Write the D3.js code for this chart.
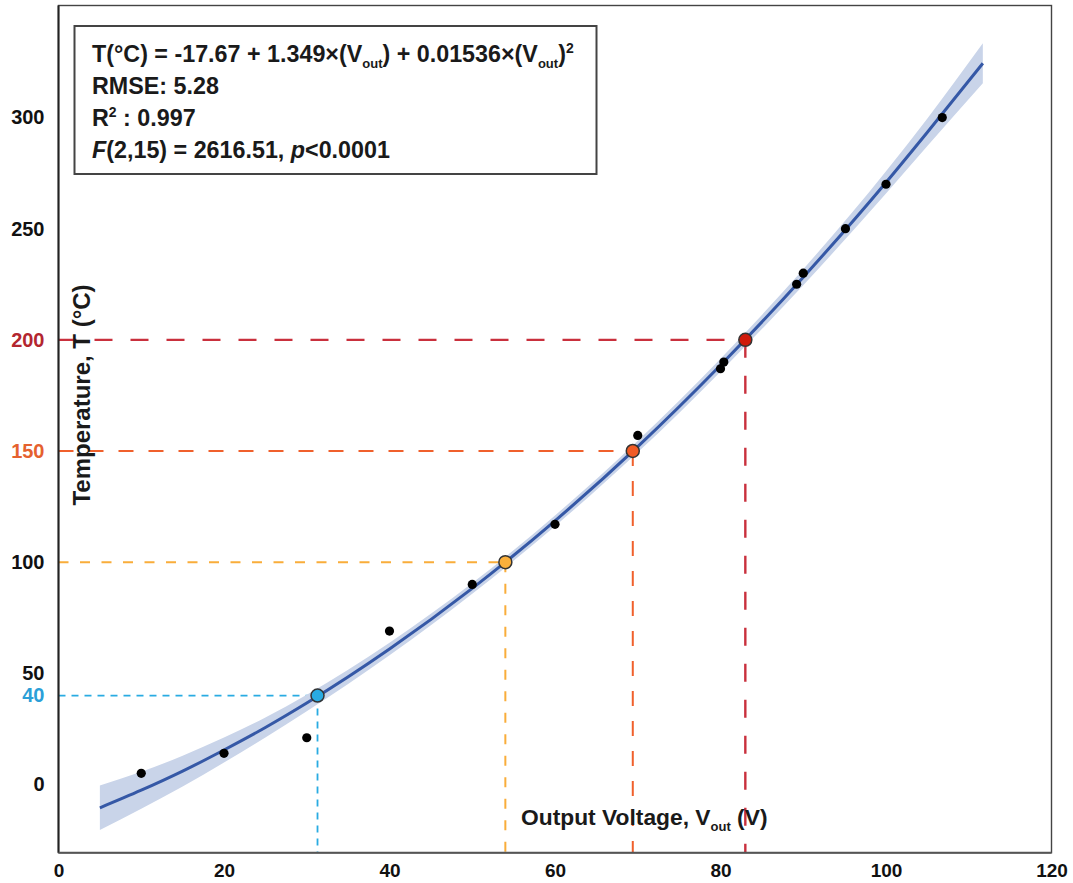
<!DOCTYPE html>
<html>
<head>
<meta charset="utf-8">
<script src="https://cdn.jsdelivr.net/npm/d3@7"></script>
<style>
  body { margin: 0; background: #fff; }
  svg text { font-family: "Liberation Sans", Arial, Helvetica, sans-serif; font-weight: bold; fill: #1a1a1a; }
</style>
</head>
<body>
<svg id="canvas"></svg>
<script>
// measured calibration points (V_out, T)
let voltage = [10, 20, 30, 40, 50, 60, 70, 80, 80.4, 89.2, 90, 95.1, 100, 106.8];
let temperature = [5, 14, 21, 69, 90, 117, 157, 187, 190, 225, 230, 250, 270, 300];

// fitted curve + confidence band
let fitV = [5, 10, 15, 20, 25, 30, 40, 50, 60, 70, 80, 90, 100, 105, 111.7];
let fitT = [-10.5, -2.6, 6.0, 15.5, 25.6, 36.6, 60.9, 88.2, 118.6, 152.0, 188.6, 228.2, 270.8, 293.4, 324.4];
let bandHalf = [10, 8.3, 6.9, 5.6, 4.5, 3.7, 2.8, 2.4, 2.4, 2.6, 2.9, 3.6, 5.0, 6.2, 9.0];

// highlighted read-outs
let refT = [40, 100, 150, 200];
let refV = [31.3, 54.0, 69.4, 83.0];

let xTicks = [0, 20, 40, 60, 80, 100, 120];
let yTicks = [0, 40, 50, 100, 150, 200, 250, 300];

let coef = ["-17.67", "1.349", "0.01536"];
let rmse = "5.28";
let r2 = "0.997";
let fText = "(2,15) = 2616.51, ";
let pText = "<0.0001";

// styles for the read-outs
let refStyle = [
  { dot: "#29abe2", line: "#29abe2", label: "#2b9fd8", dash: "7,6", w: 1.8 },
  { dot: "#fbb03b", line: "#f9ad3a", label: "#111", dash: "10,11.5", w: 2 },
  { dot: "#f15a24", line: "#f0602c", label: "#e5612e", dash: "15,15", w: 2 },
  { dot: "#d0190b", line: "#c9303d", label: "#b3262f", dash: "18,18", w: 2.4 }
];

let width = 1073;
let height = 883;
let padLeft = 58.5, padRight = 1051.5, padTop = 5.5, padBottom = 852.7;

let canvas = d3.select("#canvas").attr("width", width).attr("height", height);

let xScale = d3.scaleLinear().domain([0, 120]).range([padLeft, padRight]);
let yScale = d3.scaleLinear().domain([-30.7, 350.4]).range([padBottom, padTop]);

let fit = fitV.map((v, i) => ({ v: v, t: fitT[i], h: bandHalf[i] }));

// dashed read-out lines
refT.forEach((t, i) => {
  let s = refStyle[i];
  canvas.append("line")
        .attr("x1", xScale(0)).attr("x2", xScale(refV[i]))
        .attr("y1", yScale(t)).attr("y2", yScale(t))
        .attr("stroke", s.line).attr("stroke-width", s.w)
        .attr("stroke-dasharray", s.dash);
  canvas.append("line")
        .attr("x1", xScale(refV[i])).attr("x2", xScale(refV[i]))
        .attr("y1", yScale(t)).attr("y2", padBottom)
        .attr("stroke", s.line).attr("stroke-width", s.w)
        .attr("stroke-dasharray", s.dash);
});

// confidence band
let band = d3.area()
             .x(d => xScale(d.v))
             .y0(d => yScale(d.t - d.h))
             .y1(d => yScale(d.t + d.h))
             .curve(d3.curveMonotoneX);
canvas.append("path")
      .datum(fit)
      .attr("d", band)
      .attr("fill", "#c9d4e9");

// fitted line
let line = d3.line()
             .x(d => xScale(d.v))
             .y(d => yScale(d.t))
             .curve(d3.curveMonotoneX);
canvas.append("path")
      .datum(fit)
      .attr("d", line)
      .attr("fill", "none")
      .attr("stroke", "#3558a6")
      .attr("stroke-width", 3);

// measured points
canvas.selectAll(".pt")
      .data(voltage)
      .enter()
      .append("circle")
      .attr("class", "pt")
      .attr("cx", d => xScale(d))
      .attr("cy", (d, i) => yScale(temperature[i]))
      .attr("r", 4.6)
      .attr("fill", "#000");

// highlighted points
canvas.selectAll(".ref")
      .data(refT)
      .enter()
      .append("circle")
      .attr("class", "ref")
      .attr("cx", (d, i) => xScale(refV[i]))
      .attr("cy", d => yScale(d))
      .attr("r", 6.5)
      .attr("fill", (d, i) => refStyle[i].dot)
      .attr("stroke", "#333")
      .attr("stroke-width", 1.5);

// axes
let yAxis = d3.axisLeft(yScale).tickValues(yTicks).tickSize(0).tickPadding(14);
let yG = canvas.append("g")
               .attr("transform", "translate(" + padLeft + ",0)")
               .call(yAxis);
yG.select(".domain").remove();
yG.selectAll("text")
  .style("font-size", "20px")
  .style("fill", d => {
    let k = refT.indexOf(d);
    return k >= 0 ? refStyle[k].label : "#111";
  });

let xAxis = d3.axisBottom(xScale).tickValues(xTicks).tickSize(0).tickPadding(11).tickFormat(d3.format("d"));
let xG = canvas.append("g")
               .attr("transform", "translate(0," + padBottom + ")")
               .call(xAxis);
xG.select(".domain").remove();
xG.selectAll("text").style("font-size", "19px").style("fill", "#111");

// frame
canvas.append("rect")
      .attr("x", padLeft).attr("y", padTop)
      .attr("width", padRight - padLeft).attr("height", padBottom - padTop)
      .attr("fill", "none").attr("stroke", "#444").attr("stroke-width", 1.4);
canvas.append("line")
      .attr("x1", padLeft).attr("x2", padLeft).attr("y1", padTop).attr("y2", padBottom)
      .attr("stroke", "#222").attr("stroke-width", 2);
canvas.append("line")
      .attr("x1", padLeft).attr("x2", padRight).attr("y1", padBottom).attr("y2", padBottom)
      .attr("stroke", "#555").attr("stroke-width", 2);

// axis titles
let xt = canvas.append("text")
               .attr("x", 521).attr("y", 825)
               .style("font-size", "22.8px");
xt.append("tspan").text("Output Voltage, V");
xt.append("tspan").attr("dy", 6).style("font-size", "13px").text("out");
xt.append("tspan").attr("dy", -6).text(" (V)");

canvas.append("text")
      .attr("transform", "translate(90,395) rotate(-90)")
      .attr("text-anchor", "middle")
      .style("font-size", "24px")
      .text("Temperature, T (°C)");

// stats box
canvas.append("rect")
      .attr("x", 74.5).attr("y", 26)
      .attr("width", 522).attr("height", 148)
      .attr("fill", "#fff").attr("stroke", "#444").attr("stroke-width", 2);

let tx = 92;
let fs = "23.3px";
let l1 = canvas.append("text").attr("x", tx).attr("y", 62).style("font-size", fs);
l1.append("tspan").text("T(°C) = " + coef[0] + " + " + coef[1] + "×(V");
l1.append("tspan").attr("dy", 6).style("font-size", "13px").text("out");
l1.append("tspan").attr("dy", -6).text(") + " + coef[2] + "×(V");
l1.append("tspan").attr("dy", 6).style("font-size", "13px").text("out");
l1.append("tspan").attr("dy", -6).text(")");
l1.append("tspan").attr("dy", -9).style("font-size", "14px").text("2");

canvas.append("text").attr("x", tx).attr("y", 94).style("font-size", fs)
      .text("RMSE: " + rmse);

let l3 = canvas.append("text").attr("x", tx).attr("y", 126).style("font-size", fs);
l3.append("tspan").text("R");
l3.append("tspan").attr("dy", -9).style("font-size", "14px").text("2");
l3.append("tspan").attr("dy", 9).text(" : " + r2);

let l4 = canvas.append("text").attr("x", tx).attr("y", 158).style("font-size", fs);
l4.append("tspan").style("font-style", "italic").text("F");
l4.append("tspan").text(fText);
l4.append("tspan").style("font-style", "italic").text("p");
l4.append("tspan").text(pText);
</script>
</body>
</html>
